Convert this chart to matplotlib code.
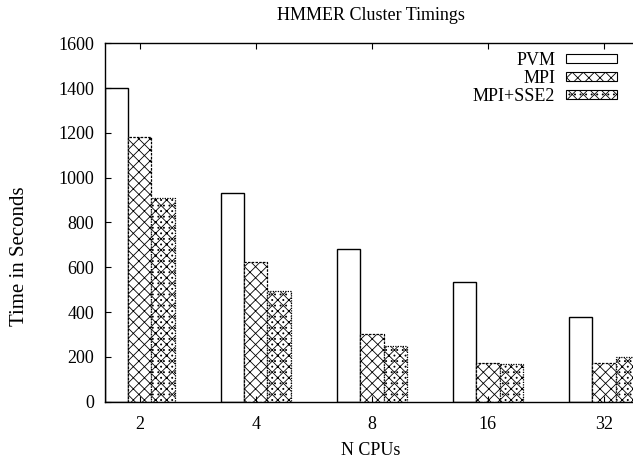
import numpy as np
import matplotlib.pyplot as plt
from matplotlib.patches import Patch

# HMMER cluster timings (seconds) per CPU count
cpus = ['2', '4', '8', '16', '32']
pvm = [1400, 930, 680, 536, 377]
mpi = [1183, 622, 301, 175, 171]
mpi_sse2 = [911, 494, 249, 167, 198]

plt.rcParams['font.family'] = ['Liberation Serif', 'DejaVu Serif']
plt.rcParams['hatch.linewidth'] = 0.6

fig = plt.figure(figsize=(6.33, 4.61), dpi=100)
ax = fig.add_axes([105 / 633, 59.3 / 461, 528 / 633, 358.4 / 461])

x = np.arange(len(cpus))
w = 0.2
ax.bar(x - w, pvm, w, facecolor='white', edgecolor='black', linewidth=1.0)
ax.bar(x, mpi, w, facecolor='white', edgecolor='black', hatch='xxx',
       linewidth=0.9, linestyle=(0, (2, 1)))
ax.bar(x + w, mpi_sse2, w, facecolor='white', edgecolor='black', hatch='xxx...',
       linewidth=0.9, linestyle=(0, (1, 1)))

ax.set_xlim(-0.3, 4.25)
ax.set_ylim(0, 1600)
ax.set_xticks(x)
ax.set_xticklabels(cpus)
ax.set_yticks(np.arange(0, 1601, 200))
ax.tick_params(direction='in', length=4, width=0.8, labelsize=13, top=True, right=False)
ax.tick_params(axis='x', pad=10)
ax.tick_params(axis='y', pad=8)
ax.spines['right'].set_visible(False)
for s in ['left', 'top', 'bottom']:
    ax.spines[s].set_linewidth(1.0)

# legend, text on the left, sample box on the right
handles = [
    Patch(facecolor='white', edgecolor='black', linewidth=0.8),
    Patch(facecolor='white', edgecolor='black', hatch='xxx', linewidth=0.8),
    Patch(facecolor='white', edgecolor='black', hatch='xxx...', linewidth=0.8),
]
ax.legend(handles, ['PVM', 'MPI', 'MPI+SSE2'], loc='upper right',
          bbox_to_anchor=((630 - 105) / 528, 1.0 + 4 / 358.4),
          markerfirst=False, frameon=False, fontsize=13,
          handlelength=2.85, handleheight=0.4, labelspacing=0.05,
          handletextpad=0.6, borderaxespad=0.3)

fig.text(371 / 633, 1 - 15 / 461, 'HMMER Cluster Timings', ha='center', va='center', fontsize=13)
fig.text(371 / 633, 1 - 450 / 461, 'N CPUs', ha='center', va='center', fontsize=13)
fig.text(20 / 633, 1 - 256 / 461, 'Time in Seconds', ha='center', va='center',
         rotation=90, fontsize=15)

plt.savefig('out.png', dpi=100)
plt.close()
